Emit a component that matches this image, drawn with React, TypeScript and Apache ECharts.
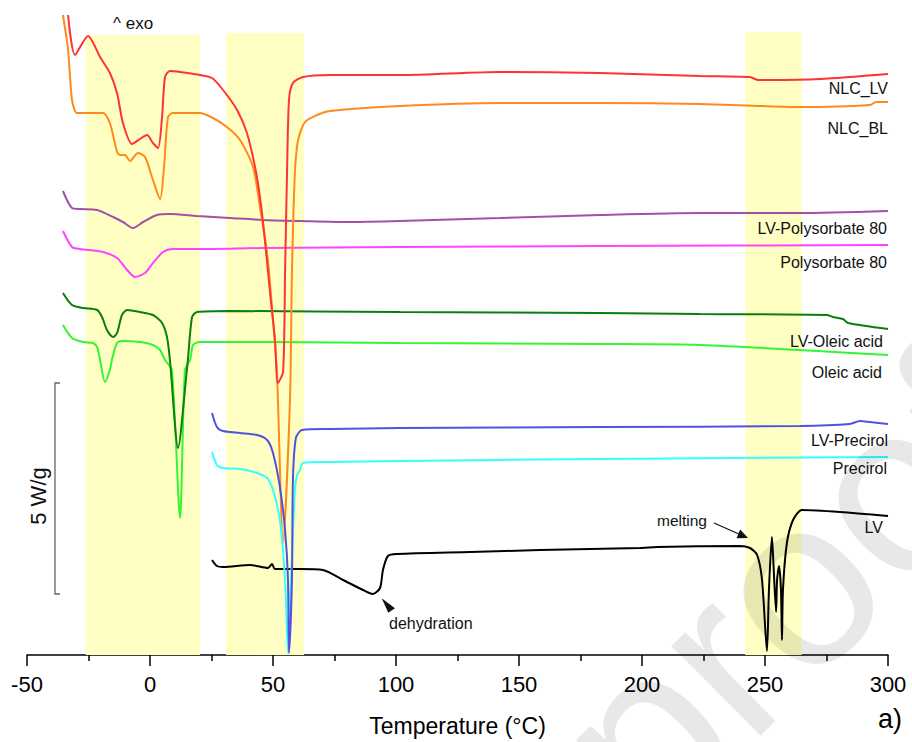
import React, { useEffect, useRef } from "react";
import * as echarts from "echarts";

// Temperature (°C) vs. stacked heat-flow (offset units, exo up)
const xMin = -50;
const xMax = 300;
const xStep = 50;

// Highlight bands: [start °C, end °C, top]
const bandRanges: [number, number, number][] = [
  [-26.1, 20.3, 620],
  [30.9, 62.6, 622],
  [241.9, 264.9, 623],
];

const nlcLV: [number, number][] = [
  [-33.3, 640], [-30.5, 600], [-25.2, 619], [-20.3, 598], [-16.3, 582], [-13.4, 562],
  [-11.0, 532], [-7.3, 511], [-4.1, 516], [-1.2, 520], [1.2, 512], [3.3, 507],
  [4.9, 538], [6.1, 578], [8.1, 584], [20.3, 580], [25.2, 577], [29.7, 565],
  [35.4, 545], [39.4, 522], [42.7, 488], [44.7, 458], [46.7, 415], [48.8, 362],
  [50.8, 315], [52.0, 272], [54.1, 283], [54.9, 382], [55.7, 482], [56.5, 555],
  [58.1, 572], [62.2, 578], [73.2, 580], [101.6, 580], [142.3, 583], [182.9, 582],
  [223.6, 579], [243.9, 578], [247.2, 575], [252.0, 575], [272.4, 576], [300, 581],
];

const nlcBL: [number, number][] = [
  [-35.4, 640], [-33.3, 605], [-31.7, 555], [-29.7, 542], [-25.6, 542], [-19.1, 542],
  [-16.3, 532], [-13.4, 503], [-12.2, 500], [-10.2, 500], [-8.1, 494], [-4.9, 502],
  [-2.0, 498], [0.8, 478], [4.1, 456], [5.7, 488], [7.3, 538], [9.3, 542],
  [20.3, 542], [25.6, 537], [31.3, 528], [36.6, 515], [41.9, 488], [44.7, 448],
  [47.6, 402], [49.6, 348], [51.6, 282], [54.1, 112], [56.9, 255], [57.7, 382],
  [58.9, 482], [60.2, 515], [63.0, 533], [67.9, 540], [73.2, 544], [101.6, 549],
  [142.3, 552], [182.9, 552], [223.6, 551], [248.0, 549], [264.2, 548], [292.7, 550],
  [295.1, 553], [300, 553],
];

const lvPolysorbate: [number, number][] = [
  [-35.4, 464], [-31.7, 447], [-28.5, 446], [-21.5, 445], [-15.0, 438], [-11.0, 433],
  [-6.9, 427], [-2.8, 433], [2.8, 440], [8.1, 441], [19.1, 439], [32.5, 437],
  [45.9, 435], [61.0, 434], [81.3, 433], [101.6, 434], [142.3, 437], [182.9, 440],
  [223.6, 442], [264.2, 442], [300, 444],
];

const polysorbate: [number, number][] = [
  [-35.4, 424], [-31.7, 408], [-28.5, 406], [-19.1, 403], [-13.4, 397], [-9.3, 385],
  [-6.1, 378], [-2.0, 382], [1.2, 392], [5.3, 403], [9.3, 406], [19.1, 406],
  [45.9, 407], [101.6, 408], [182.9, 409], [300, 410],
];

const lvOleic: [number, number][] = [
  [-35.4, 362], [-31.7, 350], [-27.2, 347], [-21.5, 345], [-19.5, 338], [-17.5, 325],
  [-15.0, 318], [-13.4, 322], [-11.4, 340], [-9.3, 345], [-4.1, 343], [1.2, 340],
  [4.9, 332], [6.9, 318], [8.1, 295], [11.4, 207], [15.0, 285], [15.4, 295],
  [17.1, 338], [19.1, 343], [32.5, 344], [101.6, 343], [182.9, 342], [223.6, 341],
  [275.2, 340], [277.6, 338], [281.7, 336], [283.7, 332], [300, 326],
];

const oleic: [number, number][] = [
  [-35.4, 330], [-31.7, 317], [-27.2, 313], [-23.2, 312], [-21.5, 308], [-20.3, 295],
  [-18.3, 273], [-16.3, 285], [-15.5, 295], [-13.4, 312], [-11.0, 314], [-4.1, 313],
  [1.2, 310], [4.1, 305], [6.1, 295], [8.9, 285], [12.2, 137], [14.2, 285],
  [16.3, 295], [17.5, 310], [20.3, 313], [48.8, 313], [101.6, 312], [182.9, 311],
  [223.6, 310], [300, 300],
];

const lvPrecirol: [number, number][] = [
  [25.2, 242], [27.2, 228], [29.7, 224], [36.6, 222], [43.5, 220], [47.6, 215],
  [50.0, 202], [52.8, 168], [54.9, 125], [56.1, 75], [56.5, 2], [57.7, 75],
  [58.1, 175], [59.3, 217], [61.8, 225], [73.2, 226], [101.6, 227], [182.9, 228],
  [264.2, 229], [284.5, 231], [288.6, 234], [292.7, 233], [300, 231],
];

const precirol: [number, number][] = [
  [25.2, 203], [27.2, 190], [29.7, 187], [36.6, 186], [43.5, 182], [47.6, 177],
  [50.0, 165], [52.8, 135], [54.9, 75], [56.1, 2], [57.3, 75], [58.9, 165],
  [59.8, 180], [61.0, 185], [62.2, 192], [73.2, 193], [101.6, 194], [182.9, 196],
  [300, 198],
];

const lv: [number, number][] = [
  [25.2, 95], [27.2, 89], [29.7, 88], [40.7, 90], [48.0, 87], [49.6, 91],
  [50.8, 86], [61.0, 86], [70.3, 85], [78.5, 75], [86.6, 65], [90.6, 61],
  [93.5, 67], [94.7, 85], [96.7, 99], [100.4, 101], [130.1, 103], [158.5, 105],
  [199.2, 107], [206.1, 108], [239.8, 109], [243.9, 107], [246.8, 100], [248.8, 75],
  [250.8, 4], [251.6, 65], [252.8, 118], [253.3, 98], [254.5, 43], [254.9, 75],
  [255.7, 89], [256.5, 65], [256.9, 15], [257.3, 65], [258.9, 112], [261.4, 135],
  [265.0, 145], [280.5, 143], [300, 139],
];

const seriesNames = [
  "Oleic acid", "LV-Oleic acid", "Polysorbate 80", "LV-Polysorbate 80",
  "LV", "NLC_BL", "NLC_LV", "Precirol", "LV-Precirol",
];
const seriesData = [oleic, lvOleic, polysorbate, lvPolysorbate, lv, nlcBL, nlcLV, precirol, lvPrecirol];
const seriesColors = [
  "#33f533", "#0a7f0a", "#ff44ff", "#a550a5", "#000000", "#ff8a1c", "#ff3333", "#33ffff", "#5252e0",
];

const FONT = "'Liberation Sans', Arial, Helvetica, sans-serif";

export default function App() {
  const ref = useRef<HTMLDivElement>(null);

  useEffect(() => {
    if (!ref.current) return;
    const chart = echarts.init(ref.current, undefined, { renderer: "svg" });

    const label = (text: string, x: number, y: number, size = 16, align = "right") => ({
      type: "text",
      x,
      y,
      z: 50,
      style: {
        text,
        fill: "#111",
        fontSize: size,
        fontFamily: FONT,
        align,
        verticalAlign: "middle",
      },
    });

    const option: any = {
      animation: false,
      backgroundColor: "#ffffff",
      grid: { left: 27, right: 24, top: 10, bottom: 87, containLabel: false },
      xAxis: {
        type: "value",
        min: xMin,
        max: xMax,
        interval: xStep,
        name: "Temperature (°C)",
        nameLocation: "middle",
        nameGap: 59,
        nameTextStyle: { fontSize: 23, color: "#000", fontFamily: FONT },
        axisLine: { show: true, onZero: false, lineStyle: { color: "#000", width: 1.5 } },
        axisTick: { show: true, inside: false, length: 11, lineStyle: { color: "#000", width: 1.5 } },
        minorTick: { show: true, splitNumber: 2, length: 6, lineStyle: { color: "#000", width: 1.5 } },
        splitLine: { show: false },
        axisLabel: { fontSize: 22, color: "#000", fontFamily: FONT, margin: 18 },
      },
      yAxis: {
        type: "value",
        min: 0,
        max: 645,
        show: false,
        splitLine: { show: false },
      },
      series: [
        {
          type: "line",
          name: "bands",
          data: [],
          silent: true,
          z: 1,
          markArea: {
            silent: true,
            itemStyle: { color: "#ffffc4" },
            data: bandRanges.map(([a, b, top]) => [
              { coord: [a, top] },
              { coord: [b, 0] },
            ]),
          },
        },
        ...seriesData.map((d, i) => ({
          type: "line",
          name: seriesNames[i],
          data: d,
          showSymbol: false,
          symbol: "none",
          smooth: 0.25,
          z: 3,
          lineStyle: { color: seriesColors[i], width: 2 },
        })),
      ],
      graphic: [
        label("^ exo", 113, 23, 17, "left"),
        label("NLC_LV", 888, 88),
        label("NLC_BL", 888, 128),
        label("LV-Polysorbate 80", 887, 228),
        label("Polysorbate 80", 887, 262),
        label("LV-Oleic acid", 883, 341),
        label("Oleic acid", 882, 372),
        label("LV-Precirol", 888, 440),
        label("Precirol", 887, 468),
        label("LV", 883, 527),
        label("melting", 657, 520, 15.5, "left"),
        label("dehydration", 389, 623, 16, "left"),
        {
          type: "line",
          z: 50,
          shape: { x1: 714, y1: 523, x2: 740, y2: 534.5 },
          style: { stroke: "#111", lineWidth: 1.2 },
        },
        {
          type: "polygon",
          z: 50,
          shape: { points: [[748, 538], [736.5, 538.3], [740.2, 529.6]] },
          style: { fill: "#111" },
        },
        {
          type: "polygon",
          z: 50,
          shape: { points: [[381.7, 598.3], [395, 608.3], [388.3, 612.7]] },
          style: { fill: "#111" },
        },
        // scale bar
        {
          type: "polyline",
          z: 50,
          shape: { points: [[60, 383], [55, 383], [55, 594], [60, 594]] },
          style: { stroke: "#666", lineWidth: 1.3, fill: "none" },
        },
        {
          type: "text",
          x: 38,
          y: 496,
          rotation: Math.PI / 2,
          z: 50,
          style: {
            text: "5 W/g",
            fill: "#111",
            fontSize: 22,
            fontFamily: FONT,
            align: "center",
            verticalAlign: "middle",
          },
        },
        {
          type: "text",
          x: 902,
          y: 719,
          z: 50,
          style: {
            text: "a)",
            fill: "#000",
            fontSize: 27,
            fontFamily: FONT,
            align: "right",
            verticalAlign: "middle",
          },
        },
        // watermark
        {
          type: "text",
          x: 790,
          y: 590,
          rotation: 0.78,
          z: 100,
          silent: true,
          style: {
            text: "proof",
            fill: "rgba(0,0,0,0.09)",
            fontSize: 240,
            fontFamily: FONT,
            align: "center",
            verticalAlign: "middle",
          },
        },
      ],
    };

    chart.setOption(option);
    return () => chart.dispose();
  }, []);

  return (
    <div
      ref={ref}
      style={{ position: "absolute", left: 0, top: 0, width: 912, height: 742, background: "#fff" }}
    />
  );
}
